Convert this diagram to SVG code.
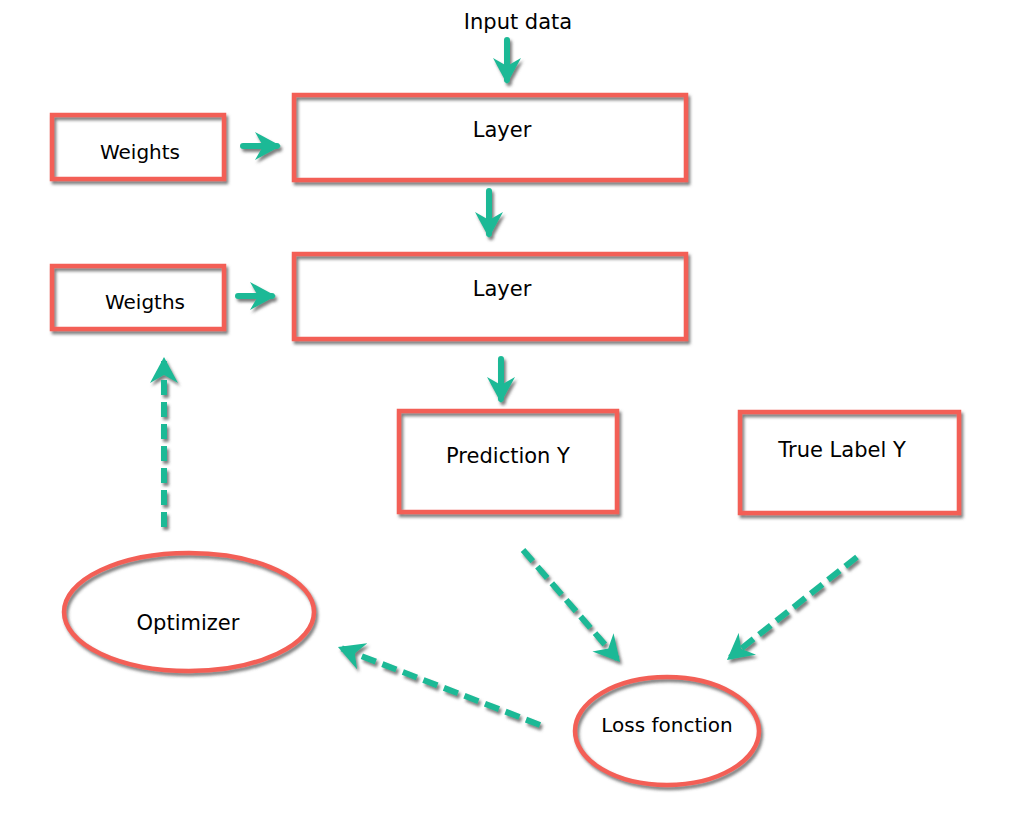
<svg xmlns="http://www.w3.org/2000/svg" width="1020" height="818" viewBox="0 0 1020 818">
<defs>
<filter id="sh" x="-20%" y="-20%" width="140%" height="140%">
<feDropShadow dx="2" dy="3" stdDeviation="1.6" flood-color="#555" flood-opacity="0.75"/>
</filter>
<marker id="ah" viewBox="0 0 26 28" refX="22" refY="14" markerWidth="26" markerHeight="28" markerUnits="userSpaceOnUse" orient="auto">
<path d="M26,14 L0,0 L8,14 L0,28 Z" fill="#1DB996"/>
</marker>
<style>
.bg{fill:#fff;stroke:none}
.box{fill:none;stroke:#F35F57;stroke-width:4.5}
.t{font-family:"DejaVu Sans",sans-serif;font-size:21px;fill:#000;text-anchor:middle}
.solid{fill:none;stroke:#1DB996;stroke-width:6;stroke-linecap:round;marker-end:url(#ah)}
.dash{fill:none;stroke:#1DB996;stroke-width:6;stroke-dasharray:15 7;marker-end:url(#ah)}
</style>
</defs>
<rect width="1020" height="818" fill="#fff"/>

<g id="input-data"><text class="t" x="518" y="29">Input data</text></g>

<g id="layer1">
<rect class="bg" x="294" y="95" width="392" height="85"/>
<rect class="box" x="294" y="95" width="392" height="85" filter="url(#sh)"/>
<text class="t" x="502" y="137">Layer</text>
</g>

<g id="weights1">
<rect class="bg" x="52" y="115" width="172" height="64"/>
<rect class="box" x="52" y="115" width="172" height="64" filter="url(#sh)"/>
<text class="t" x="140" y="159" style="font-size:20px">Weights</text>
</g>

<g id="layer2">
<rect class="bg" x="294" y="254" width="392" height="85"/>
<rect class="box" x="294" y="254" width="392" height="85" filter="url(#sh)"/>
<text class="t" x="502" y="296">Layer</text>
</g>

<g id="weights2">
<rect class="bg" x="52" y="266" width="172" height="63"/>
<rect class="box" x="52" y="266" width="172" height="63" filter="url(#sh)"/>
<text class="t" x="145" y="309" style="font-size:20px">Weigths</text>
</g>

<g id="prediction">
<rect class="bg" x="399" y="411" width="218" height="101"/>
<rect class="box" x="399" y="411" width="218" height="101" filter="url(#sh)"/>
<text class="t" x="508" y="463">Prediction Y</text>
</g>

<g id="true-label">
<rect class="bg" x="740" y="412" width="219" height="101"/>
<rect class="box" x="740" y="412" width="219" height="101" filter="url(#sh)"/>
<text class="t" x="842" y="457">True Label Y</text>
</g>

<g id="optimizer">
<ellipse class="bg" cx="189" cy="612" rx="125" ry="59"/>
<ellipse class="box" cx="189" cy="612" rx="125" ry="59" filter="url(#sh)"/>
<text class="t" x="188" y="630">Optimizer</text>
</g>

<g id="loss">
<ellipse class="bg" cx="667" cy="731" rx="92" ry="54"/>
<ellipse class="box" cx="667" cy="731" rx="92" ry="54" filter="url(#sh)"/>
<text class="t" x="667" y="732" style="font-size:20px">Loss fonction</text>
</g>

<g id="connectors" filter="url(#sh)">
<line class="solid" x1="507" y1="40" x2="507" y2="80"/>
<line class="solid" x1="243" y1="146" x2="277" y2="146"/>
<line class="solid" x1="489" y1="191" x2="489" y2="234"/>
<line class="solid" x1="238" y1="296" x2="272" y2="296"/>
<line class="solid" x1="501" y1="359" x2="501" y2="399"/>
<line class="dash" x1="164" y1="527" x2="164" y2="361"/>
<line class="dash" x1="523" y1="550" x2="617.4" y2="659"/>
<line class="dash" x1="857" y1="557" x2="730.1" y2="657.5"/>
<line class="dash" x1="540" y1="725" x2="341.7" y2="648.4"/>
</g>
</svg>
